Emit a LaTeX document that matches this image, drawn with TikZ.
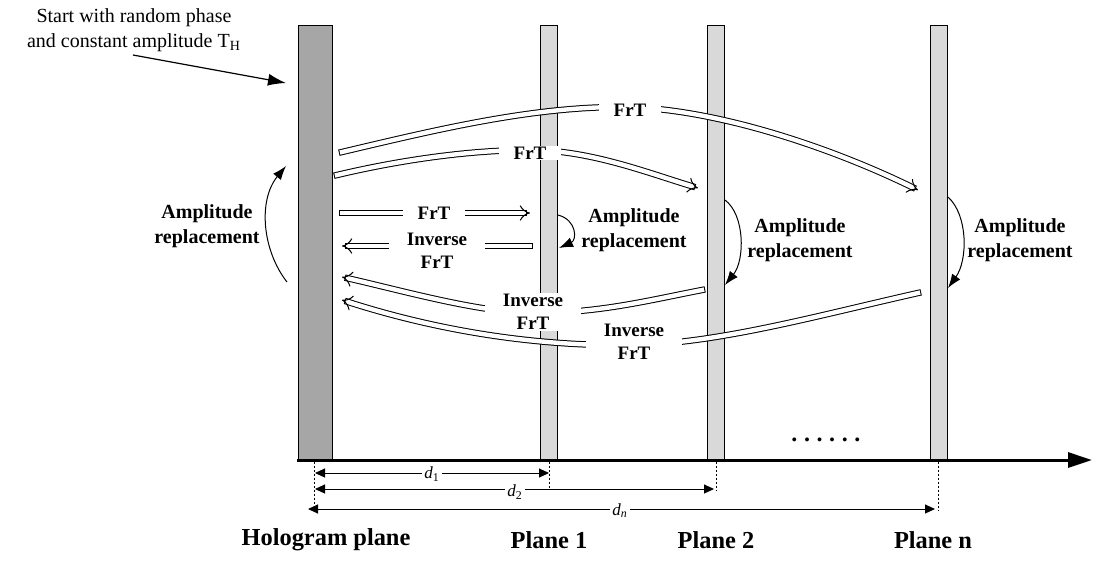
\documentclass[tikz,border=0pt]{standalone}
\usepackage{fontspec}
\setmainfont{Liberation Serif}
\usetikzlibrary{arrows.meta}
\definecolor{holgray}{HTML}{A6A6A6}
\definecolor{plgray}{HTML}{D9D9D9}
\newcommand\spdot{.\kern3.3pt}
\begin{document}
\begin{tikzpicture}[x=0.5pt,y=-0.5pt,
  holo/.style={draw=black, line width=0.5pt, fill=holgray, minimum width=17pt, minimum height=217pt, inner sep=0pt, anchor=south west},
  plane/.style={holo, fill=plgray, minimum width=8.5pt},
  hollow/.style={draw=black, line width=0.5pt, double=white, double distance=2.2pt, line cap=rect, -{Implies}},
  lbl/.style={font=\bfseries\fontsize{9.5}{11.5}\selectfont, fill=white, inner ysep=0.5pt, inner xsep=7.5pt, align=center},
  ilbl/.style={lbl, inner xsep=9pt},
  amp/.style={font=\bfseries\fontsize{10}{12.5}\selectfont, align=center},
  swing/.style={line width=0.5pt, -{Latex[length=7pt,width=5pt]}},
  dim/.style={line width=0.5pt, {Triangle[length=5pt,width=4.5pt]}-{Triangle[length=5pt,width=4.5pt]}},
  guide/.style={line width=0.5pt, dash pattern=on 1pt off 1pt},
  dlbl/.style={font=\fontsize{8.5}{9}\selectfont, fill=white, inner sep=1pt},
  plbl/.style={font=\bfseries\fontsize{12.2}{14}\selectfont}
]
\useasboundingbox (0,0) rectangle (1120,564);

% planes
\node[holo] (H) at (298,460) {};
\node[plane] (P1) at (540,460) {};
\node[plane] (P2) at (707,460) {};
\node[plane] (Pn) at (930,460) {};

% axis
\coordinate (ax0) at (297,460);
\coordinate (ax1) at (1092,460);
\draw[line width=1.5pt, -{Triangle[length=12pt,width=7.5pt]}] (ax0) -- (ax1);

% intro text and arrow
\node[font=\fontsize{10}{12.5}\selectfont, align=center] (start) at (134,30)
  {Start with random phase\\and constant amplitude T\textsubscript{H}};
\coordinate (s0) at (133,55);
\coordinate (s1) at (286,83);
\draw[line width=0.6pt, -{Latex[length=9pt,width=6pt]}] (s0) -- (s1);

% hollow arrows
\coordinate (a1s) at (342,152); \coordinate (a1m) at (620,107); \coordinate (a1e) at (918,190);
\draw[hollow] (a1s) .. controls (435,130) and (530,107) .. (a1m)
  .. controls (710,107) and (828,146) .. (a1e);
\coordinate (a2s) at (337,175); \coordinate (a2m) at (530,150); \coordinate (a2e) at (698,188);
\draw[hollow] (a2s) .. controls (400,160) and (470,150) .. (a2m)
  .. controls (590,150) and (648,173) .. (a2e);
\coordinate (a3s) at (342,213); \coordinate (a3e) at (530,213);
\draw[hollow] (a3s) -- (a3e);
\coordinate (a4s) at (530,246); \coordinate (a4e) at (342,246);
\draw[hollow] (a4s) -- (a4e);
\coordinate (a5s) at (702,290); \coordinate (a5m) at (535,313); \coordinate (a5e) at (342,277);
\draw[hollow] (a5s) .. controls (650,300) and (600,313) .. (a5m)
  .. controls (480,313) and (400,290) .. (a5e);
\coordinate (a6s) at (918,293); \coordinate (a6m) at (635,345); \coordinate (a6e) at (342,300);
\draw[hollow] (a6s) .. controls (820,315) and (720,343) .. (a6m)
  .. controls (520,347) and (420,325) .. (a6e);

% labels on hollow arrows
\node[lbl] (f1) at (630,110) {FrT};
\node[lbl] (f2) at (530,153) {FrT};
\node[lbl] (f3) at (434,213) {FrT};
\node[ilbl] (f4) at (437,251) {Inverse\\FrT};
\node[ilbl] (f5) at (533,312) {Inverse\\FrT};
\node[ilbl] (f6) at (634,342) {Inverse\\FrT};

% amplitude replacement swings
\coordinate (r0a) at (287,282); \coordinate (r0b) at (286,166);
\draw[swing] (r0a) .. controls (262,250) and (258,200) .. (r0b);
\coordinate (r1a) at (558,215); \coordinate (r1b) at (559,248);
\draw[swing] (r1a) .. controls (577,220) and (577,240) .. (r1b);
\coordinate (r2a) at (725,200); \coordinate (r2b) at (725,285);
\draw[swing] (r2a) .. controls (745,215) and (745,260) .. (r2b);
\coordinate (r3a) at (948,197); \coordinate (r3b) at (948,288);
\draw[swing] (r3a) .. controls (968,215) and (968,260) .. (r3b);

\node[amp] (m0) at (207,226) {Amplitude\\replacement};
\node[amp] (m1) at (634,230) {Amplitude\\replacement};
\node[amp] (m2) at (800,240) {Amplitude\\replacement};
\node[amp] (m3) at (1020,240) {Amplitude\\replacement};

% dots
\node[font=\bfseries\fontsize{12}{12}\selectfont, inner sep=0pt, anchor=base west] (dots) at (791,441) {\spdot\spdot\spdot\spdot\spdot.};

% guides
\coordinate (g0a) at (314,462); \coordinate (g0b) at (314,514);
\coordinate (g1a) at (549,462); \coordinate (g1b) at (549,490);
\coordinate (g2a) at (716,462); \coordinate (g2b) at (716,491);
\coordinate (g3a) at (938,462); \coordinate (g3b) at (938,511);
\draw[guide] (g0a) -- (g0b);
\draw[guide] (g1a) -- (g1b);
\draw[guide] (g2a) -- (g2b);
\draw[guide] (g3a) -- (g3b);

% dimension lines
\coordinate (d1a) at (315,473); \coordinate (d1b) at (549,473);
\coordinate (d2a) at (315,489); \coordinate (d2b) at (714,489);
\coordinate (dna) at (308,509); \coordinate (dnb) at (935,509);
\draw[dim] (d1a) -- (d1b);
\draw[dim] (d2a) -- (d2b);
\draw[dim] (dna) -- (dnb);
\node[dlbl] (l1) at (432,474) {\textit{d}\textsubscript{1}};
\node[dlbl] (l2) at (515,492) {\textit{d}\textsubscript{2}};
\node[dlbl] (ln) at (620,511) {\textit{d}\textsubscript{\textit{n}}};

% plane labels
\node[plbl] (t0) at (326,540) {Hologram plane};
\node[plbl] (t1) at (549,540) {Plane 1};
\node[plbl] (t2) at (716,540) {Plane 2};
\node[plbl] (t3) at (933,540) {Plane n};
\end{tikzpicture}
\end{document}
